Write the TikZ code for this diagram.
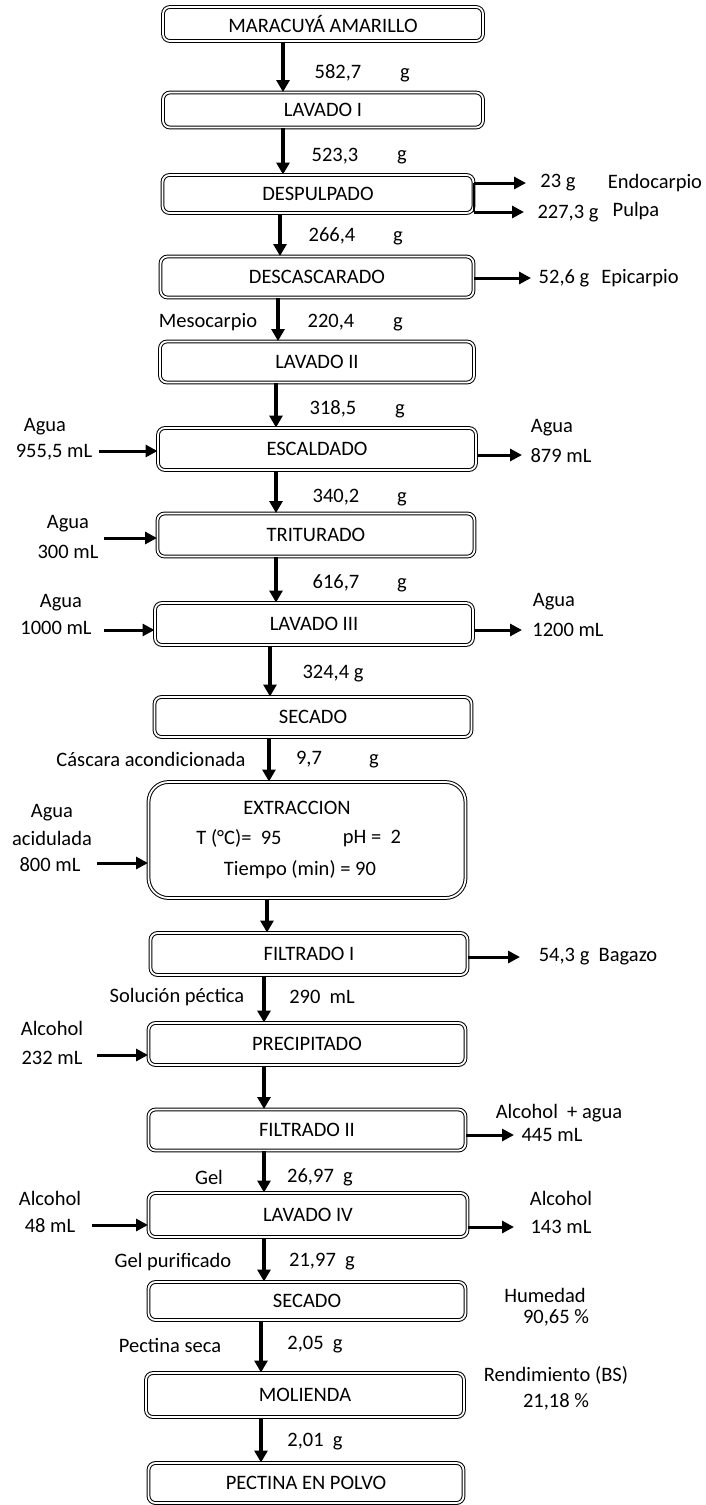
\documentclass[tikz,border=0pt]{standalone}
\usepackage{fontspec}
\setmainfont{Carlito}
\usetikzlibrary{arrows.meta}
\begin{document}
\begin{tikzpicture}[x=1pt,y=-1pt,
  every node/.style={font=\fontsize{20.5}{24}\selectfont, inner sep=0pt},
  box/.style={draw, double, line width=1pt, double distance=1.8pt, rounded corners=7pt, minimum width=317pt, minimum height=41pt},
  arr/.style={line width=3.2pt, -{Triangle[length=12pt,width=13pt]}},
  harr/.style={line width=3pt, -{Triangle[length=12pt,width=12pt]}}]
\useasboundingbox (0,0) rectangle (706,1505);

% process boxes
\node[box, minimum width=320pt, minimum height=34pt] (b1) at (323,24) {MARACUYÁ AMARILLO};
\node[box, minimum width=320pt, minimum height=35pt] (b2) at (323,110) {LAVADO I};
\node[box, minimum width=311pt, minimum height=38pt] (b3) at (318,194) {DESPULPADO};
\node[box, minimum width=313pt] (b4) at (317,277) {DESCASCARADO};
\node[box, minimum width=314pt] (b5) at (317,362) {LAVADO II};
\node[box, minimum width=318pt, minimum height=42pt] (b6) at (317,449) {ESCALDADO};
\node[box, minimum height=43pt] (b7) at (316,535) {TRITURADO};
\node[box, minimum width=318pt, minimum height=42pt] (b8) at (314,624) {LAVADO III};
\node[box, minimum height=40pt] (b9) at (313,717) {SECADO};
\node[box, minimum height=116pt, rounded corners=20pt] (b10) at (307,840) {};
\node[box, minimum height=42pt] (b11) at (309,954) {FILTRADO I};
\node[box, minimum height=42pt] (b12) at (307,1044) {PRECIPITADO};
\node[box] (b13) at (307,1130) {FILTRADO II};
\node[box, minimum width=319pt, minimum height=44pt] (b14) at (308,1215) {LAVADO IV};
\node[box, minimum height=38pt] (b15) at (307,1301) {SECADO};
\node[box, minimum width=318pt, minimum height=44pt] (b16) at (305,1395) {MOLIENDA};
\node[box, minimum width=315pt, minimum height=40pt] (b17) at (306,1483) {PECTINA EN POLVO};

% text inside EXTRACCION
\node (e1) at (297,808) {EXTRACCION};
\node (e2) at (239,838) {T (°C)=\ \ 95};
\node (e3) at (372,838) {pH =\ \ 2};
\node (e4) at (300,870) {Tiempo (min) = 90};

% main vertical flow
\draw[arr] (b1.south -| 283,0) -- (b2.north -| 283,0);
\draw[arr] (b2.south -| 283,0) -- (b3.north -| 283,0);
\draw[arr] (b3.south -| 280,0) -- (b4.north -| 280,0);
\draw[arr] (b4.south -| 278,0) -- (b5.north -| 278,0);
\draw[arr] (b5.south -| 276,0) -- (b6.north -| 276,0);
\draw[arr] (b6.south -| 276,0) -- (b7.north -| 276,0);
\draw[arr] (b7.south -| 276,0) -- (b8.north -| 276,0);
\draw[arr] (b8.south -| 270,0) -- (b9.north -| 270,0);
\draw[arr] (b9.south -| 269,0) -- (b10.north -| 269,0);
\draw[arr] (b10.south -| 267,0) -- (b11.north -| 267,0);
\draw[arr] (b11.south -| 264,0) -- (b12.north -| 264,0);
\draw[arr] (b12.south -| 264,0) -- (b13.north -| 264,0);
\draw[arr] (b13.south -| 264,0) -- (b14.north -| 264,0);
\draw[arr] (b14.south -| 264,0) -- (b15.north -| 264,0);
\draw[arr] (b15.south -| 261,0) -- (b16.north -| 261,0);
\draw[arr] (b16.south -| 261,0) -- (b17.north -| 261,0);

% flow labels
\node (l1) at (338,73) {582,7};   \node (g1) at (405,75) {g};
\node (l2) at (335,156) {523,3};  \node (g2) at (402,157) {g};
\node (l3) at (332,236) {266,4};  \node (g3) at (398,238) {g};
\node (m4) at (208,322) {Mesocarpio};
\node (l4) at (331,322) {220,4};  \node (g4) at (398,324) {g};
\node (l5) at (333,409) {318,5};  \node (g5) at (400,411) {g};
\node (l6) at (336,497) {340,2};  \node (g6) at (402,499) {g};
\node (l7) at (336,583) {616,7};  \node (g7) at (402,585) {g};
\node (l8) at (333,674) {324,4 g};
\node (m9) at (151,759) {Cáscara acondicionada};
\node (l9) at (309,759) {9,7};    \node (g9) at (374,761) {g};
\node (m11) at (177,997) {Solución péctica};
\node (l11) at (322,997) {290\ \ mL};
\node (m13) at (209,1177) {Gel};
\node (l13) at (320,1177) {26,97\ \ g};
\node (m14) at (173,1262) {Gel purificado};
\node (l14) at (322,1262) {21,97\ \ g};
\node (m15) at (170,1345) {Pectina seca};
\node (l15) at (315,1345) {2,05\ \ g};
\node (l16) at (315,1442) {2,01\ \ g};

% DESPULPADO outputs
\coordinate (o3a) at (526,183);
\coordinate (o3b) at (524,212);
\draw[line width=1.2pt] (b3.east |- o3a) -- (b3.east |- o3b);
\draw[harr] (b3.east |- o3a) -- (o3a);
\draw[harr] (b3.east |- o3b) -- (o3b);
\node (t3a) at (558,183) {23 g};
\node (t3b) at (655,183) {Endocarpio};
\node (t3c) at (568,214) {227,3 g};
\node (t3d) at (636,211) {Pulpa};

% DESCASCARADO output
\coordinate (o4) at (531,278);
\draw[harr] (b4.east |- o4) -- (o4);
\node (t4a) at (564,278) {52,6 g};
\node (t4b) at (640,278) {Epicarpio};

% ESCALDADO
\coordinate (i6) at (99,451);
\draw[harr] (i6) -- (i6 -| b6.west);
\node (a6a) at (45,427) {Agua};
\node (a6b) at (54,452) {955,5 mL};
\coordinate (o6) at (522,455);
\draw[harr] (o6 -| b6.east) -- (o6);
\node (a6c) at (552,428) {Agua};
\node (a6d) at (561,456) {879 mL};

% TRITURADO
\coordinate (i7) at (104,538);
\draw[harr] (i7) -- (i7 -| b7.west);
\node (a7a) at (68,524) {Agua};
\node (a7b) at (68,552) {300 mL};

% LAVADO III
\coordinate (i8) at (104,630);
\draw[harr] (i8) -- (i8 -| b8.west);
\node (a8a) at (61,603) {Agua};
\node (a8b) at (56,628) {1000 mL};
\coordinate (o8) at (522,630);
\draw[harr] (o8 -| b8.east) -- (o8);
\node (a8c) at (554,602) {Agua};
\node (a8d) at (568,630) {1200 mL};

% EXTRACCION
\coordinate (i10) at (97,863);
\draw[harr] (i10) -- (i10 -| b10.west);
\node (a10a) at (52,813) {Agua};
\node (a10b) at (52,838) {acidulada};
\node (a10c) at (50,865) {800 mL};

% FILTRADO I
\coordinate (o11) at (520,957);
\draw[harr] (o11 -| b11.east) -- (o11);
\node (a11) at (598,957) {54,3 g\ \ Bagazo};

% PRECIPITADO
\coordinate (i12) at (97,1055);
\draw[harr] (i12) -- (i12 -| b12.west);
\node (a12a) at (52,1028) {Alcohol};
\node (a12b) at (52,1058) {232 mL};

% FILTRADO II
\coordinate (o13) at (514,1135);
\draw[harr] (o13 -| b13.east) -- (o13);
\node (a13a) at (559,1113) {Alcohol\ \ + agua};
\node (a13b) at (552,1135) {445 mL};

% LAVADO IV
\coordinate (i14) at (92,1225);
\draw[harr] (i14) -- (i14 -| b14.west);
\node (a14a) at (50,1198) {Alcohol};
\node (a14b) at (50,1226) {48 mL};
\coordinate (o14) at (514,1227);
\draw[harr] (o14 -| b14.east) -- (o14);
\node (a14c) at (561,1198) {Alcohol};
\node (a14d) at (561,1227) {143 mL};

% SECADO / MOLIENDA notes
\node (h15a) at (545,1295) {Humedad};
\node (h15b) at (556,1318) {90,65 \%};
\node (r16a) at (556,1375) {Rendimiento (BS)};
\node (r16b) at (556,1402) {21,18 \%};
\end{tikzpicture}
\end{document}
